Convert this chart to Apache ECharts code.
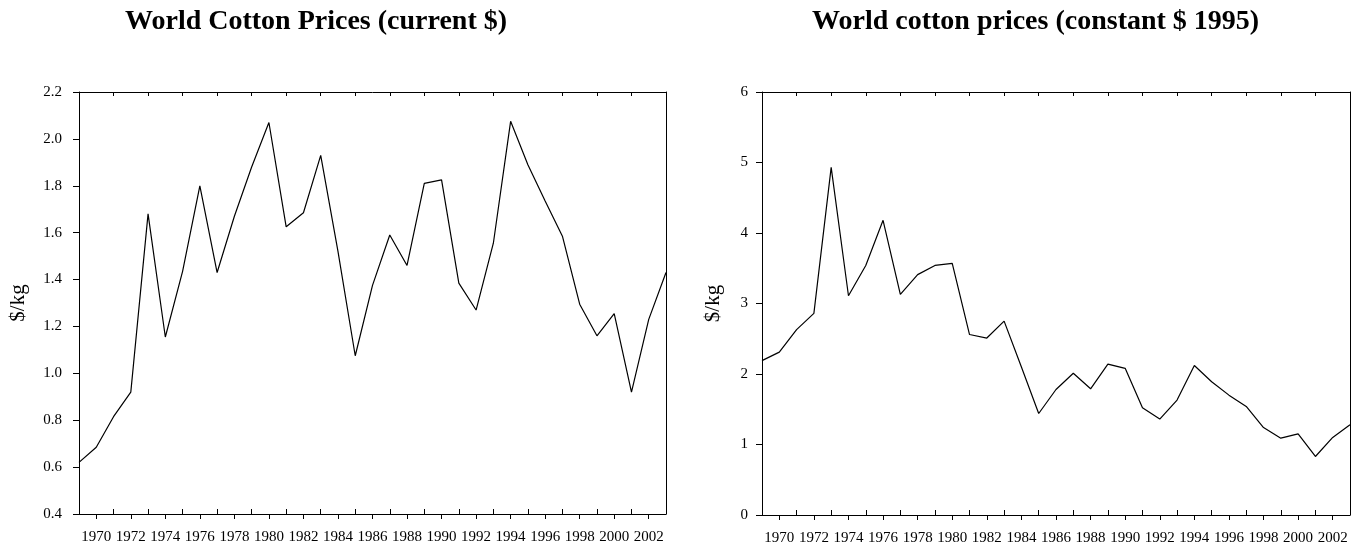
<!DOCTYPE html>
<html>
<head>
<meta charset="utf-8">
<title>World cotton prices</title>
<style>
	html, body { margin: 0; padding: 0; background: #fff; }
	#chart { width: 1356px; height: 546px; }
</style>
</head>
<body>
	<div id="chart"></div>

	<script src="https://cdn.jsdelivr.net/npm/echarts@6/dist/echarts.min.js"></script>
	<script>
		var years = ['1969','1970','1971','1972','1973','1974','1975','1976','1977','1978',
			'1979','1980','1981','1982','1983','1984','1985','1986','1987','1988',
			'1989','1990','1991','1992','1993','1994','1995','1996','1997','1998',
			'1999','2000','2001','2002','2003'];
		// $/kg, current dollars
		var currentPrice = [0.62,0.685,0.815,0.92,1.68,1.155,1.435,1.80,1.43,1.67,
			1.88,2.07,1.625,1.685,1.93,1.52,1.075,1.375,1.59,1.46,
			1.81,1.825,1.385,1.27,1.555,2.075,1.89,1.735,1.585,1.295,
			1.16,1.255,0.92,1.23,1.43];
		// $/kg, constant 1995 dollars
		var constantPrice = [2.19,2.31,2.63,2.86,4.93,3.11,3.54,4.18,3.13,3.41,
			3.54,3.57,2.56,2.51,2.75,2.10,1.44,1.78,2.01,1.79,
			2.14,2.08,1.52,1.36,1.63,2.12,1.89,1.70,1.54,1.24,
			1.09,1.15,0.83,1.10,1.28];
		var leftTitle = 'World Cotton Prices (current $)';
		var rightTitle = 'World cotton prices (constant $ 1995)';
		var unitName = '$/kg';

		var font = '"Liberation Serif", "Times New Roman", serif';
		var black = '#000';

		var isEven = function (idx, val) { return Number(val) % 2 === 0; };
		var isOdd = function (idx, val) { return Number(val) % 2 !== 0; };

		function xAxes(gi) {
			return [
				{ // labelled bottom axis, outward ticks on even years
					gridIndex: gi, type: 'category', position: 'bottom', data: years, boundaryGap: false,
					axisLine: { lineStyle: { color: black, width: 1 } },
					axisTick: { inside: false, length: 5, interval: isEven, lineStyle: { color: black } },
					axisLabel: { interval: isEven, color: black, fontFamily: font, fontSize: 15, margin: 16 },
					splitLine: { show: false }
				},
				{ // inward ticks on odd years
					gridIndex: gi, type: 'category', position: 'bottom', data: years, boundaryGap: false,
					axisLine: { show: false },
					axisTick: { inside: true, length: 5, interval: isOdd, lineStyle: { color: black } },
					axisLabel: { show: false },
					splitLine: { show: false }
				},
				{ // top frame
					gridIndex: gi, type: 'category', position: 'top', data: years, boundaryGap: false,
					axisLine: { lineStyle: { color: black, width: 1 } },
					axisTick: { inside: true, length: 4, interval: isOdd, lineStyle: { color: black } },
					axisLabel: { show: false },
					splitLine: { show: false }
				}
			];
		}

		function yAxes(gi, min, max, step, digits, gap, lblMargin) {
			return [
				{
					gridIndex: gi, type: 'value', position: 'left', min: min, max: max, interval: step,
					name: unitName, nameLocation: 'middle', nameGap: gap, nameRotate: 90,
					nameTextStyle: { color: black, fontFamily: font, fontSize: 21 },
					axisLine: { show: true, lineStyle: { color: black, width: 1 } },
					axisTick: { show: true, inside: false, length: 6, lineStyle: { color: black } },
					axisLabel: { color: black, fontFamily: font, fontSize: 15, margin: lblMargin,
						formatter: function (v) { return v.toFixed(digits); } },
					splitLine: { show: false }
				},
				{
					gridIndex: gi, type: 'value', position: 'right', min: min, max: max, interval: step,
					axisLine: { show: true, lineStyle: { color: black, width: 1 } },
					axisTick: { show: false },
					axisLabel: { show: false },
					splitLine: { show: false }
				}
			];
		}

		var option = {
			animation: false,
			backgroundColor: '#fff',
			title: [
				{ text: leftTitle, left: 125, top: 8, padding: 0,
				  textStyle: { color: black, fontFamily: font, fontSize: 28, fontWeight: 'bold' } },
				{ text: rightTitle, left: 812, top: 8, padding: 0,
				  textStyle: { color: black, fontFamily: font, fontSize: 28, fontWeight: 'bold' } }
			],
			grid: [
				{ left: 79, top: 92, width: 587, height: 422 },
				{ left: 762, top: 92, width: 588, height: 424 }
			],
			xAxis: xAxes(0).concat(xAxes(1)),
			yAxis: yAxes(0, 0.4, 2.2, 0.2, 1, 50, 17).concat(yAxes(1, 0, 6, 1, 0, 38, 14)),
			series: [
				{ name: 'current', type: 'line', xAxisIndex: 0, yAxisIndex: 0, data: currentPrice,
				  showSymbol: false, lineStyle: { color: black, width: 1.2 }, itemStyle: { color: black } },
				{ name: 'constant', type: 'line', xAxisIndex: 3, yAxisIndex: 2, data: constantPrice,
				  showSymbol: false, lineStyle: { color: black, width: 1.2 }, itemStyle: { color: black } }
			]
		};

		var chart = echarts.init(document.getElementById('chart'));
		chart.setOption(option);
	</script>
</body>
</html>
